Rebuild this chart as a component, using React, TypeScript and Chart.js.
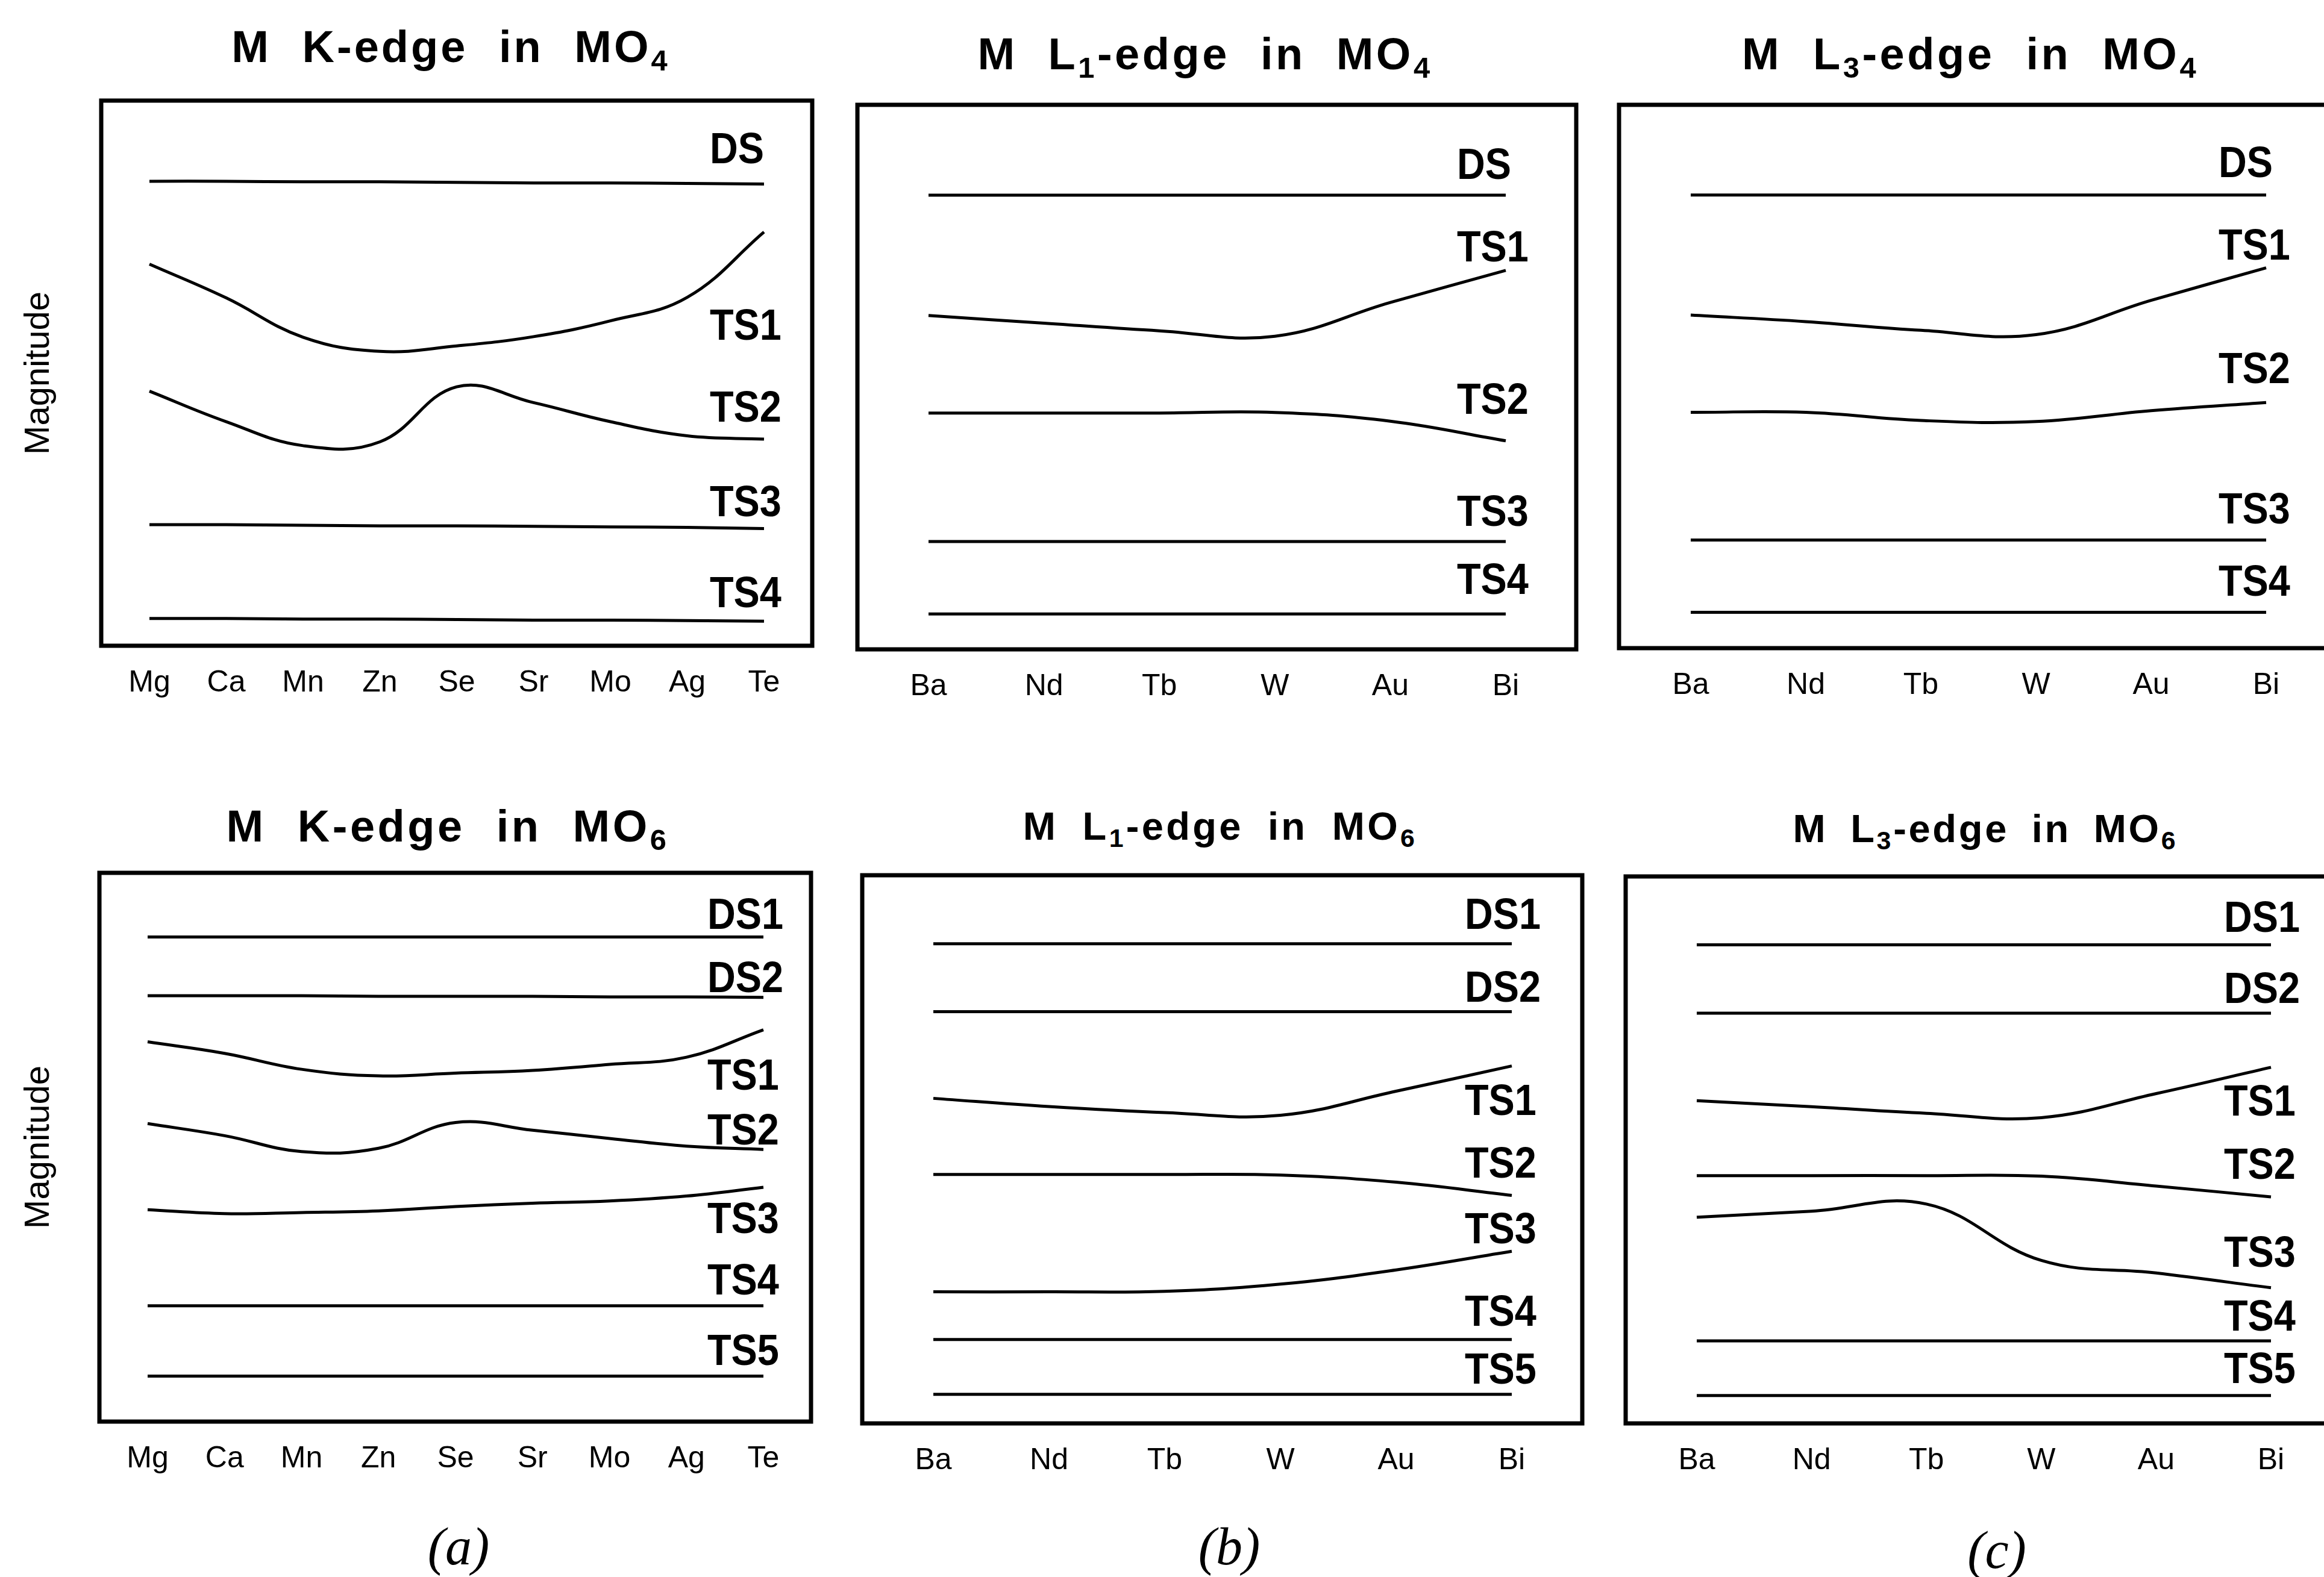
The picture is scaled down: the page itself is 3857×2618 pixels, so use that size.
import React, { useEffect, useRef } from 'react';
import { Chart, registerables } from 'chart.js';

Chart.register(...registerables);

const FONT = "'Liberation Sans', Arial, Helvetica, sans-serif";
Chart.defaults.font.family = FONT;
Chart.defaults.color = '#000';

// ---------- categories ----------
const kEdgeElements = ['Mg', 'Ca', 'Mn', 'Zn', 'Se', 'Sr', 'Mo', 'Ag', 'Te'];
const lEdgeElements = ['Ba', 'Nd', 'Tb', 'W', 'Au', 'Bi'];

// ---------- (a) M K-edge in MO4 ----------
const kMO4_DS = [85.2, 85.2, 85.1, 85.1, 85.0, 84.9, 84.9, 84.8, 84.7];
const kMO4_TS1 = [70.0, 63.8, 56.6, 54.0, 55.0, 56.7, 59.6, 63.9, 75.9];
const kMO4_TS2 = [46.7, 41.1, 36.7, 37.4, 47.5, 44.6, 41.1, 38.5, 37.9];
const kMO4_TS3 = [22.2, 22.2, 22.1, 22.0, 22.0, 21.9, 21.8, 21.7, 21.5];
const kMO4_TS4 = [5.0, 5.0, 4.9, 4.9, 4.8, 4.7, 4.7, 4.6, 4.5];
const kMO4_labelLevels = [88.5, 56.1, 41.1, 23.8, 7.1];

// ---------- (b) M L1-edge in MO4 ----------
const l1MO4_DS = [83.4, 83.4, 83.4, 83.4, 83.4, 83.4];
const l1MO4_TS1 = [61.3, 59.9, 58.5, 57.5, 63.7, 69.6];
const l1MO4_TS2 = [43.4, 43.4, 43.4, 43.5, 41.9, 38.3];
const l1MO4_TS3 = [19.8, 19.8, 19.8, 19.8, 19.8, 19.8];
const l1MO4_TS4 = [6.5, 6.5, 6.5, 6.5, 6.5, 6.5];
const l1MO4_labelLevels = [86.4, 71.2, 43.2, 22.7, 10.2];

// ---------- (c) M L3-edge in MO4 ----------
const l3MO4_DS = [83.4, 83.4, 83.4, 83.4, 83.4, 83.4];
const l3MO4_TS1 = [61.3, 60.1, 58.5, 57.7, 64.0, 70.0];
const l3MO4_TS2 = [43.4, 43.4, 41.9, 41.7, 43.7, 45.2];
const l3MO4_TS3 = [19.9, 19.9, 19.9, 19.9, 19.9, 19.9];
const l3MO4_TS4 = [6.6, 6.6, 6.6, 6.6, 6.6, 6.6];
const l3MO4_labelLevels = [86.7, 71.5, 48.8, 22.9, 9.7];

// ---------- (a) M K-edge in MO6 ----------
const kMO6_DS1 = [88.3, 88.3, 88.3, 88.3, 88.3, 88.3, 88.3, 88.3, 88.3];
const kMO6_DS2 = [77.6, 77.6, 77.6, 77.5, 77.5, 77.5, 77.4, 77.4, 77.3];
const kMO6_TS1 = [69.2, 67.1, 64.2, 63.0, 63.5, 64.0, 65.1, 66.4, 71.4];
const kMO6_TS2 = [54.3, 52.1, 49.2, 49.8, 54.5, 53.1, 51.6, 50.2, 49.6];
const kMO6_TS3 = [38.6, 37.9, 38.1, 38.4, 39.2, 39.8, 40.2, 41.1, 42.7];
const kMO6_TS4 = [21.1, 21.1, 21.1, 21.1, 21.1, 21.1, 21.1, 21.1, 21.1];
const kMO6_TS5 = [8.3, 8.3, 8.3, 8.3, 8.3, 8.3, 8.3, 8.3, 8.3];
const kMO6_labelLevels = [89.8, 78.3, 60.5, 50.5, 34.4, 23.2, 10.3];

// ---------- (b) M L1-edge in MO6 ----------
const l1MO6_DS1 = [87.5, 87.5, 87.5, 87.5, 87.5, 87.5];
const l1MO6_DS2 = [75.1, 75.1, 75.1, 75.1, 75.1, 75.1];
const l1MO6_TS1 = [59.3, 57.8, 56.7, 56.2, 60.6, 65.2];
const l1MO6_TS2 = [45.4, 45.4, 45.4, 45.3, 44.0, 41.6];
const l1MO6_TS3 = [24.0, 24.0, 24.1, 25.4, 28.0, 31.4];
const l1MO6_TS4 = [15.3, 15.3, 15.3, 15.3, 15.3, 15.3];
const l1MO6_TS5 = [5.3, 5.3, 5.3, 5.3, 5.3, 5.3];
const l1MO6_labelLevels = [90.2, 76.9, 56.3, 44.8, 32.9, 17.8, 7.2];

// ---------- (c) M L3-edge in MO6 ----------
const l3MO6_DS1 = [87.5, 87.5, 87.5, 87.5, 87.5, 87.5];
const l3MO6_DS2 = [75.0, 75.0, 75.0, 75.0, 75.0, 75.0];
const l3MO6_TS1 = [59.0, 57.9, 56.7, 55.9, 60.3, 65.1];
const l3MO6_TS2 = [45.3, 45.3, 45.3, 45.2, 43.4, 41.4];
const l3MO6_TS3 = [37.7, 38.8, 40.1, 29.8, 27.5, 24.8];
const l3MO6_TS4 = [15.1, 15.1, 15.1, 15.1, 15.1, 15.1];
const l3MO6_TS5 = [5.1, 5.1, 5.1, 5.1, 5.1, 5.1];
const l3MO6_labelLevels = [89.9, 76.9, 56.3, 44.7, 28.6, 17.0, 7.4];

// ---------- panel layout ----------
type SeriesDef = { name: string; values: number[] };
type Box = { left: number; top: number; right: number; bottom: number };
type PanelDef = {
  key: string;
  categories: string[];
  series: SeriesDef[];
  labelLevels: number[];
  box: Box;
  firstX: number;
  lastX: number;
  labelShift: number;
  yTitle: boolean;
};

const panels: PanelDef[] = [
  {
    key: 'kMO4', categories: kEdgeElements,
    series: [
      { name: 'DS', values: kMO4_DS }, { name: 'TS1', values: kMO4_TS1 }, { name: 'TS2', values: kMO4_TS2 },
      { name: 'TS3', values: kMO4_TS3 }, { name: 'TS4', values: kMO4_TS4 },
    ],
    labelLevels: kMO4_labelLevels,
    box: { left: 168, top: 167, right: 1348, bottom: 1072 }, firstX: 248, lastX: 1268, labelShift: 90, yTitle: true,
  },
  {
    key: 'l1MO4', categories: lEdgeElements,
    series: [
      { name: 'DS', values: l1MO4_DS }, { name: 'TS1', values: l1MO4_TS1 }, { name: 'TS2', values: l1MO4_TS2 },
      { name: 'TS3', values: l1MO4_TS3 }, { name: 'TS4', values: l1MO4_TS4 },
    ],
    labelLevels: l1MO4_labelLevels,
    box: { left: 1423, top: 174, right: 2616, bottom: 1078 }, firstX: 1541, lastX: 2499, labelShift: 81, yTitle: false,
  },
  {
    key: 'l3MO4', categories: lEdgeElements,
    series: [
      { name: 'DS', values: l3MO4_DS }, { name: 'TS1', values: l3MO4_TS1 }, { name: 'TS2', values: l3MO4_TS2 },
      { name: 'TS3', values: l3MO4_TS3 }, { name: 'TS4', values: l3MO4_TS4 },
    ],
    labelLevels: l3MO4_labelLevels,
    box: { left: 2687, top: 174, right: 3880, bottom: 1076 }, firstX: 2806, lastX: 3761, labelShift: 79, yTitle: false,
  },
  {
    key: 'kMO6', categories: kEdgeElements,
    series: [
      { name: 'DS1', values: kMO6_DS1 }, { name: 'DS2', values: kMO6_DS2 }, { name: 'TS1', values: kMO6_TS1 },
      { name: 'TS2', values: kMO6_TS2 }, { name: 'TS3', values: kMO6_TS3 }, { name: 'TS4', values: kMO6_TS4 },
      { name: 'TS5', values: kMO6_TS5 },
    ],
    labelLevels: kMO6_labelLevels,
    box: { left: 165, top: 1449, right: 1346, bottom: 2360 }, firstX: 245, lastX: 1267, labelShift: 93, yTitle: true,
  },
  {
    key: 'l1MO6', categories: lEdgeElements,
    series: [
      { name: 'DS1', values: l1MO6_DS1 }, { name: 'DS2', values: l1MO6_DS2 }, { name: 'TS1', values: l1MO6_TS1 },
      { name: 'TS2', values: l1MO6_TS2 }, { name: 'TS3', values: l1MO6_TS3 }, { name: 'TS4', values: l1MO6_TS4 },
      { name: 'TS5', values: l1MO6_TS5 },
    ],
    labelLevels: l1MO6_labelLevels,
    box: { left: 1431, top: 1453, right: 2626, bottom: 2363 }, firstX: 1549, lastX: 2509, labelShift: 78, yTitle: false,
  },
  {
    key: 'l3MO6', categories: lEdgeElements,
    series: [
      { name: 'DS1', values: l3MO6_DS1 }, { name: 'DS2', values: l3MO6_DS2 }, { name: 'TS1', values: l3MO6_TS1 },
      { name: 'TS2', values: l3MO6_TS2 }, { name: 'TS3', values: l3MO6_TS3 }, { name: 'TS4', values: l3MO6_TS4 },
      { name: 'TS5', values: l3MO6_TS5 },
    ],
    labelLevels: l3MO6_labelLevels,
    box: { left: 2698, top: 1455, right: 3887, bottom: 2363 }, firstX: 2816, lastX: 3769, labelShift: 78, yTitle: false,
  },
];

// ---------- plugins ----------
const framePlugin = {
  id: 'frame',
  afterDraw(chart: any) {
    const { ctx, chartArea: a } = chart;
    ctx.save();
    ctx.strokeStyle = '#000';
    ctx.lineWidth = 7;
    ctx.strokeRect(a.left, a.top, a.right - a.left, a.bottom - a.top);
    ctx.restore();
  },
};

const seriesLabelPlugin = {
  id: 'seriesLabels',
  afterDatasetsDraw(chart: any, _args: any, opts: any) {
    const { ctx } = chart;
    const yScale = chart.scales.y;
    const squeeze = 0.9;
    chart.data.datasets.forEach((ds: any, i: number) => {
      const meta = chart.getDatasetMeta(i);
      const last = meta.data[meta.data.length - 1];
      if (!last) return;
      const x = last.x - opts.shift;
      const y = yScale.getPixelForValue(opts.levels[i]);
      ctx.save();
      ctx.font = `bold 72px ${FONT}`;
      ctx.fillStyle = '#000';
      ctx.textAlign = 'left';
      ctx.textBaseline = 'alphabetic';
      ctx.translate(x, y);
      ctx.scale(squeeze, 1);
      ctx.fillText(ds.label, 0, 0);
      ctx.restore();
    });
  },
};

function ChartPanel({ p }: { p: PanelDef }) {
  const ref = useRef<HTMLCanvasElement>(null);
  const yW = p.yTitle ? p.box.left - 26 : 10;
  const padTop = 10;
  const padRight = 10;
  const xH = 120;
  const canvasLeft = p.box.left - yW;
  const canvasTop = p.box.top - padTop;
  const width = p.box.right - p.box.left + yW + padRight;
  const height = p.box.bottom - p.box.top + padTop + xH;

  useEffect(() => {
    if (!ref.current) return;
    const n = p.categories.length;
    const step = (p.lastX - p.firstX) / (n - 1);
    const xMin = -(p.firstX - p.box.left) / step;
    const xMax = n - 1 + (p.box.right - p.lastX) / step;
    const chart = new Chart(ref.current, {
      type: 'line',
      data: {
        datasets: p.series.map((s) => ({
          label: s.name,
          data: s.values.map((v, i) => ({ x: i, y: v })),
          borderColor: '#000',
          borderWidth: 5,
          pointRadius: 0,
          fill: false,
          tension: 0.4,
        })),
      },
      options: {
        responsive: false,
        animation: false,
        devicePixelRatio: 1,
        events: [],
        layout: { padding: { left: 0, top: padTop, right: padRight, bottom: 0 } },
        plugins: {
          legend: { display: false },
          tooltip: { enabled: false },
          title: { display: false },
          seriesLabels: { shift: p.labelShift, levels: p.labelLevels },
        } as any,
        scales: {
          x: {
            type: 'linear',
            min: xMin,
            max: xMax,
            grid: { display: false, drawTicks: false },
            border: { display: false },
            ticks: {
              padding: 32,
              font: { size: 50, family: FONT },
              color: '#000',
              autoSkip: false,
              maxRotation: 0,
              callback: (v: any) => p.categories[v] ?? '',
            },
            afterBuildTicks: (s: any) => {
              s.ticks = p.categories.map((_, i) => ({ value: i }));
            },
            afterFit: (s: any) => {
              s.height = xH;
            },
          },
          y: {
            min: 0,
            max: 100,
            grid: { display: false, drawTicks: false },
            border: { display: false },
            ticks: { display: false },
            title: {
              display: p.yTitle,
              text: 'Magnitude',
              font: { size: 58, family: FONT },
              color: '#000',
              padding: { top: 4, bottom: 4 },
            },
            afterFit: (s: any) => {
              s.width = yW;
            },
          },
        } as any,
      },
      plugins: [framePlugin, seriesLabelPlugin],
    });
    return () => chart.destroy();
  }, [p]);

  return (
    <canvas
      ref={ref}
      width={width}
      height={height}
      style={{ position: 'absolute', left: canvasLeft, top: canvasTop, width, height }}
    />
  );
}

type TitleDef = {
  cx: number; top: number; size: number; ls: number; ws: number;
  pre: string; edgeSub?: string; mid: string; sub: string;
};

const titles: TitleDef[] = [
  { cx: 748, top: 41, size: 74, ls: 4, ws: 27, pre: 'M K', mid: '-edge in MO', sub: '4' },
  { cx: 2000, top: 53, size: 74, ls: 4.5, ws: 26, pre: 'M L', edgeSub: '1', mid: '-edge in MO', sub: '4' },
  { cx: 3270, top: 53, size: 74, ls: 4.5, ws: 27, pre: 'M L', edgeSub: '3', mid: '-edge in MO', sub: '4' },
  { cx: 743, top: 1335, size: 74, ls: 4.5, ws: 27, pre: 'M K', mid: '-edge in MO', sub: '6' },
  { cx: 2025, top: 1339, size: 65, ls: 4.3, ws: 18, pre: 'M L', edgeSub: '1', mid: '-edge in MO', sub: '6' },
  { cx: 3295, top: 1343, size: 65, ls: 3.7, ws: 16, pre: 'M L', edgeSub: '3', mid: '-edge in MO', sub: '6' },
];

const captions = [
  { text: '(a)', cx: 761, top: 2524 },
  { text: '(b)', cx: 2040, top: 2524 },
  { text: '(c)', cx: 3314, top: 2530 },
];

const subStyle: React.CSSProperties = {
  fontSize: '0.66em',
  verticalAlign: 'baseline',
  position: 'relative',
  top: '0.28em',
  lineHeight: 1,
};

export default function App() {
  return (
    <div
      style={{
        position: 'absolute',
        left: 0,
        top: 0,
        width: 3857,
        height: 2618,
        overflow: 'hidden',
        background: '#fff',
      }}
    >
      {panels.map((p) => (
        <ChartPanel key={p.key} p={p} />
      ))}
      {titles.map((t, i) => (
        <div
          key={i}
          style={{
            position: 'absolute',
            left: t.cx - 700,
            width: 1400,
            top: t.top,
            textAlign: 'center',
            fontFamily: FONT,
            fontWeight: 'bold',
            fontSize: t.size,
            lineHeight: 1,
            letterSpacing: t.ls,
            wordSpacing: t.ws,
            whiteSpace: 'nowrap',
            color: '#000',
          }}
        >
          {t.pre}
          {t.edgeSub ? <sub style={subStyle}>{t.edgeSub}</sub> : null}
          {t.mid}
          <sub style={subStyle}>{t.sub}</sub>
        </div>
      ))}
      {captions.map((c) => (
        <div
          key={c.text}
          style={{
            position: 'absolute',
            left: c.cx - 200,
            width: 400,
            top: c.top,
            textAlign: 'center',
            fontFamily: "'Liberation Serif', 'Times New Roman', serif",
            fontStyle: 'italic',
            fontSize: 88,
            lineHeight: 1,
            color: '#000',
          }}
        >
          {c.text}
        </div>
      ))}
    </div>
  );
}
